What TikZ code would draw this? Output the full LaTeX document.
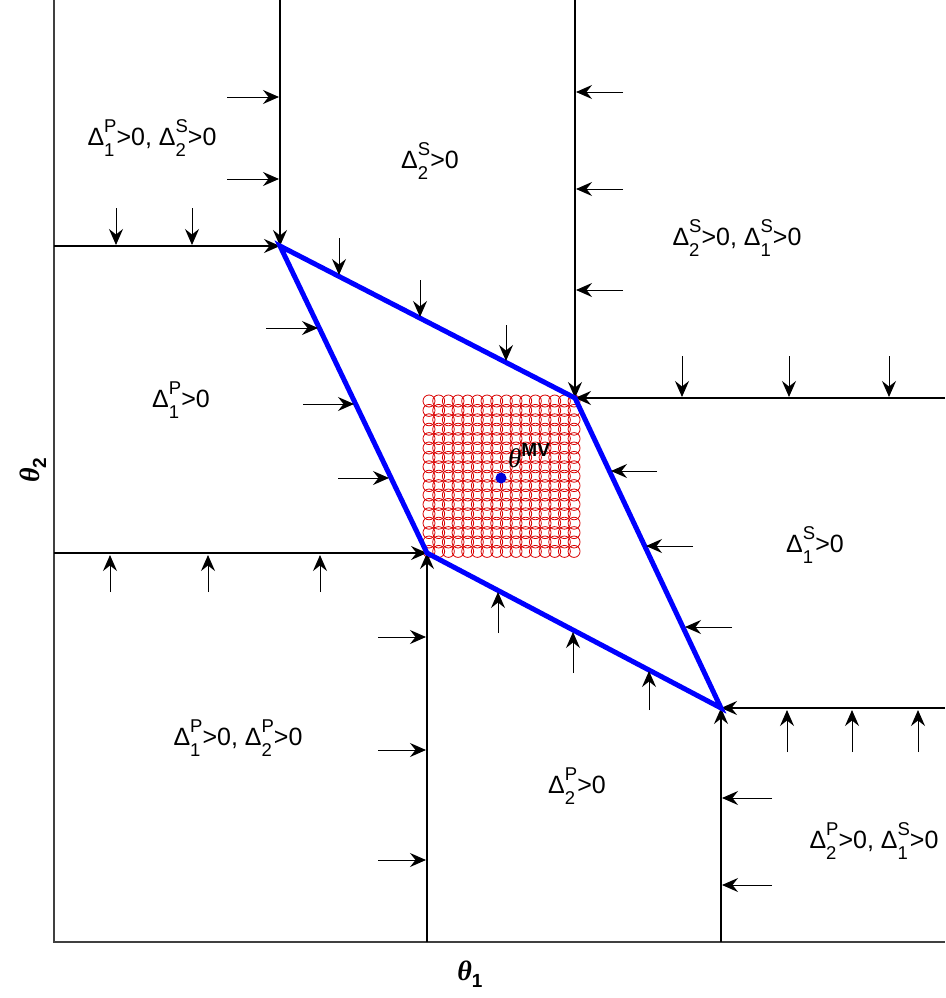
\documentclass[tikz,border=0pt]{standalone}
\usepackage{fontspec}
\setmainfont{Liberation Sans}
\newfontfamily\thfont{Liberation Serif}
\usetikzlibrary{arrows.meta}
\newcommand{\scrsz}{\fontsize{18.5}{18.5}\selectfont}
\newcommand{\Dl}[2]{Δ\setbox0\hbox{\scrsz #1}\setbox2\hbox{\scrsz #2}\dimen0=\wd0 \ifdim\wd2>\dimen0 \dimen0=\wd2 \fi\rlap{\raise 12.5pt\box2}\rlap{\lower 11pt\box0}\hskip\dimen0\relax}
\begin{document}
\begin{tikzpicture}[x=1pt,y=-1pt,
  axisline/.style={line width=1.3pt, black!75},
  bound/.style={line width=1.4pt, black, -{Stealth[length=16pt,width=14pt,inset=5.5pt]}},
  qv/.style={line width=1pt, black, -{Stealth[length=16pt,width=14pt,inset=5.5pt]}},
  dia/.style={line width=5pt, blue, line join=miter},
  grid circ/.style={red!85!black, line width=0.8pt},
  lab/.style={font=\fontsize{25}{27}\selectfont, anchor=base, inner sep=0pt}]
\useasboundingbox (0,0) rectangle (945,998);
% vertices
\coordinate (A) at (280,246);
\coordinate (B) at (575,398);
\coordinate (C) at (721,708);
\coordinate (D) at (427,553);
\coordinate (O) at (54,942);
\coordinate (Ytop) at (54,0);
\coordinate (Xend) at (945,942);
% axes
\draw[axisline] (Ytop) -- (O) -- (Xend);
% red grid of circles
\foreach \i in {0,...,15}{
  \foreach \j in {0,...,16}{
    \draw[grid circ] (429+\i*9.67, 401+\j*9.4) circle[radius=6pt];
  }
}
% boundary lines
\coordinate (LA) at (54,246);  \coordinate (TA) at (280,0);
\coordinate (RB) at (945,398); \coordinate (TB) at (575,0);
\coordinate (LD) at (54,553);  \coordinate (BD) at (427,942);
\coordinate (RC) at (945,708); \coordinate (BC) at (721,942);
\draw[bound] (LA) -- (A);
\draw[bound] (TA) -- (A);
\draw[bound] (RB) -- (B);
\draw[bound] (TB) -- (B);
\draw[bound] (LD) -- (D);
\draw[bound] (BD) -- (D);
\draw[bound] (RC) -- (C);
\draw[bound] (BC) -- (C);
% diamond
\draw[dia] (A) -- (B) -- (C) -- (D) -- cycle;
% quiver arrows
\foreach \y in {97,179} \draw[qv] (227,\y) -- (279,\y);
\foreach \x in {116,192} \draw[qv] (\x,208) -- (\x,245);
\foreach \y in {92,189,290} \draw[qv] (623,\y) -- (576,\y);
\draw[qv] (339,238) -- (339,275);
\draw[qv] (420,280) -- (420,317);
\draw[qv] (506,325) -- (506,361);
\foreach \x in {682,789,889} \draw[qv] (\x,356) -- (\x,397);
\draw[qv] (266,328) -- (318,328);
\draw[qv] (303,404) -- (354,404);
\draw[qv] (338,478) -- (389,478);
\draw[qv] (657,471) -- (611,471);
\draw[qv] (693,546) -- (646,546);
\draw[qv] (732,627) -- (685,627);
\foreach \x in {110,208,320} \draw[qv] (\x,592) -- (\x,555);
\foreach \y in {637,750,860} \draw[qv] (378,\y) -- (426,\y);
\draw[qv] (498,633) -- (498,592);
\draw[qv] (573,673) -- (573,632);
\draw[qv] (649,710) -- (649,671);
\foreach \x in {787,852,918} \draw[qv] (\x,752) -- (\x,710);
\foreach \y in {798,885} \draw[qv] (772,\y) -- (722,\y);
% MV point
\fill[blue!85!black] (501,478) circle[radius=5.5pt];
\node[anchor=base west, inner sep=0pt] (mv) at (508,467) {{\thfont\itshape\fontsize{27}{29}\selectfont θ}\raise 11pt\hbox{\bfseries\fontsize{19}{19}\selectfont MV}};
% region labels
\node[lab] (l1) at (152,145) {\Dl{1}{P}>0, \Dl{2}{S}>0};
\node[lab] (l2) at (430,168) {\Dl{2}{S}>0};
\node[lab] (l3) at (737,245) {\Dl{2}{S}>0, \Dl{1}{S}>0};
\node[lab] (l4) at (181,407) {\Dl{1}{P}>0};
\node[lab] (l5) at (815,552) {\Dl{1}{S}>0};
\node[lab] (l6) at (238,745) {\Dl{1}{P}>0, \Dl{2}{P}>0};
\node[lab] (l7) at (577,793) {\Dl{2}{P}>0};
\node[lab] (l8) at (874,848) {\Dl{2}{P}>0, \Dl{1}{S}>0};
% axis labels
\node[anchor=base, inner sep=0pt] (xl) at (470,980) {{\thfont\bfseries\itshape\fontsize{28}{30}\selectfont θ}\lower 7pt\hbox{\bfseries\fontsize{19}{19}\selectfont 1}};
\node[anchor=base, inner sep=0pt, rotate=90] (yl) at (39,470) {{\thfont\bfseries\itshape\fontsize{28}{30}\selectfont θ}\lower 7pt\hbox{\bfseries\fontsize{19}{19}\selectfont 2}};
\end{tikzpicture}
\end{document}
